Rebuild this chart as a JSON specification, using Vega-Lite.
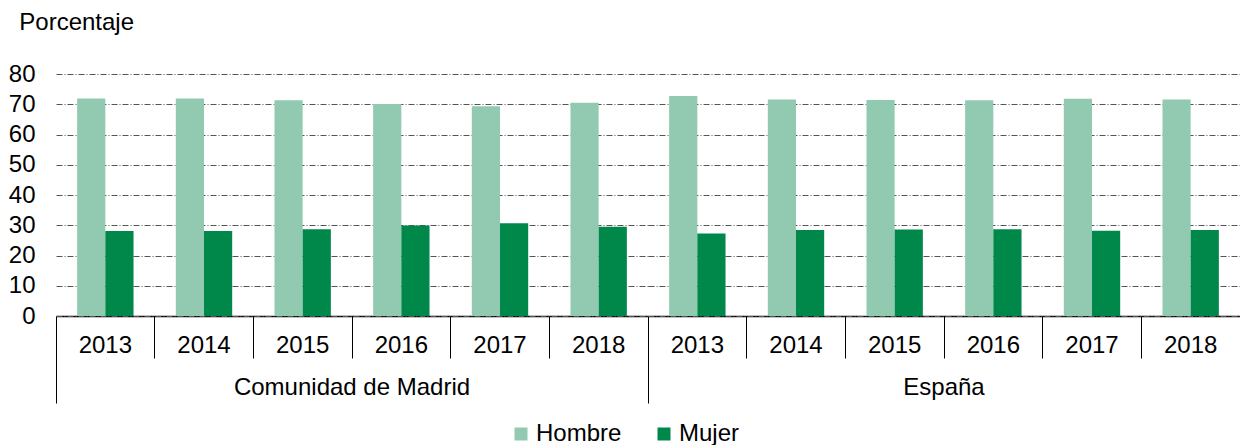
{
  "$schema": "https://vega.github.io/schema/vega-lite/v6.json",
  "padding": {"left": 8, "top": 11, "right": 0, "bottom": 0},
  "background": "white",
  "title": {"text": "Porcentaje", "anchor": "start", "frame": "bounds", "dx": 11, "fontSize": 24, "fontWeight": "normal", "font": "Liberation Sans", "color": "#000", "offset": 27},
  "data": {"values": [
    {"region": "Comunidad de Madrid", "year": "2013", "sex": "Hombre", "value": 71.9},
    {"region": "Comunidad de Madrid", "year": "2013", "sex": "Mujer", "value": 28.1},
    {"region": "Comunidad de Madrid", "year": "2014", "sex": "Hombre", "value": 71.9},
    {"region": "Comunidad de Madrid", "year": "2014", "sex": "Mujer", "value": 28.1},
    {"region": "Comunidad de Madrid", "year": "2015", "sex": "Hombre", "value": 71.3},
    {"region": "Comunidad de Madrid", "year": "2015", "sex": "Mujer", "value": 28.7},
    {"region": "Comunidad de Madrid", "year": "2016", "sex": "Hombre", "value": 70.1},
    {"region": "Comunidad de Madrid", "year": "2016", "sex": "Mujer", "value": 29.9},
    {"region": "Comunidad de Madrid", "year": "2017", "sex": "Hombre", "value": 69.3},
    {"region": "Comunidad de Madrid", "year": "2017", "sex": "Mujer", "value": 30.7},
    {"region": "Comunidad de Madrid", "year": "2018", "sex": "Hombre", "value": 70.5},
    {"region": "Comunidad de Madrid", "year": "2018", "sex": "Mujer", "value": 29.5},
    {"region": "España", "year": "2013", "sex": "Hombre", "value": 72.7},
    {"region": "España", "year": "2013", "sex": "Mujer", "value": 27.3},
    {"region": "España", "year": "2014", "sex": "Hombre", "value": 71.6},
    {"region": "España", "year": "2014", "sex": "Mujer", "value": 28.4},
    {"region": "España", "year": "2015", "sex": "Hombre", "value": 71.4},
    {"region": "España", "year": "2015", "sex": "Mujer", "value": 28.6},
    {"region": "España", "year": "2016", "sex": "Hombre", "value": 71.3},
    {"region": "España", "year": "2016", "sex": "Mujer", "value": 28.7},
    {"region": "España", "year": "2017", "sex": "Hombre", "value": 71.8},
    {"region": "España", "year": "2017", "sex": "Mujer", "value": 28.2},
    {"region": "España", "year": "2018", "sex": "Hombre", "value": 71.6},
    {"region": "España", "year": "2018", "sex": "Mujer", "value": 28.4}
  ]},
  "facet": {
    "column": {
      "field": "region", "type": "nominal",
      "sort": ["Comunidad de Madrid", "España"],
      "header": {"title": null, "labelOrient": "bottom", "labelFontSize": 24, "labelFont": "Liberation Sans", "labelColor": "#000", "labelPadding": -28}
    }
  },
  "spacing": 0,
  "spec": {
    "width": 592,
    "height": 242,
    "mark": {"type": "bar"},
    "encoding": {
      "x": {
        "field": "year", "type": "nominal",
        "scale": {"paddingInner": 0, "paddingOuter": 0},
        "axis": {
          "title": null, "labelAngle": 0, "bandPosition": 0,
          "tickSize": {"condition": {"test": "datum.index === 0", "value": 87}, "value": 42},
          "tickColor": "#000", "tickWidth": 1, "domainColor": "#000", "domainWidth": 1.5,
          "labelFontSize": 24, "labelFont": "Liberation Sans", "labelColor": "#000",
          "labelPadding": {"condition": {"test": "datum.index === 0", "value": -70}, "value": -25}
        }
      },
      "xOffset": {"field": "sex", "type": "nominal", "sort": ["Hombre", "Mujer"], "scale": {"paddingInner": 0, "paddingOuter": 0.75}},
      "y": {
        "field": "value", "type": "quantitative",
        "scale": {"domain": [0, 80]},
        "axis": {
          "title": null, "values": [0, 10, 20, 30, 40, 50, 60, 70, 80],
          "grid": true, "gridDash": [6, 2, 1, 2], "gridColor": "#555", "gridWidth": 1,
          "domain": false, "ticks": false, "labelPadding": 21,
          "labelFontSize": 24, "labelFont": "Liberation Sans", "labelColor": "#000"
        }
      },
      "color": {
        "field": "sex", "type": "nominal",
        "scale": {"domain": ["Hombre", "Mujer"], "range": ["#92CAB1", "#00884B"]},
        "legend": {
          "title": null, "orient": "bottom", "direction": "horizontal",
          "symbolType": "square", "symbolSize": 169, "symbolStrokeWidth": 0,
          "labelFontSize": 24, "labelFont": "Liberation Sans", "labelColor": "#000",
          "columnPadding": 30, "labelOffset": 3, "offset": 18
        }
      }
    }
  },
  "config": {"view": {"stroke": null}, "font": "Liberation Sans", "legend": {"layout": {"bottom": {"anchor": "middle"}}}}
}
